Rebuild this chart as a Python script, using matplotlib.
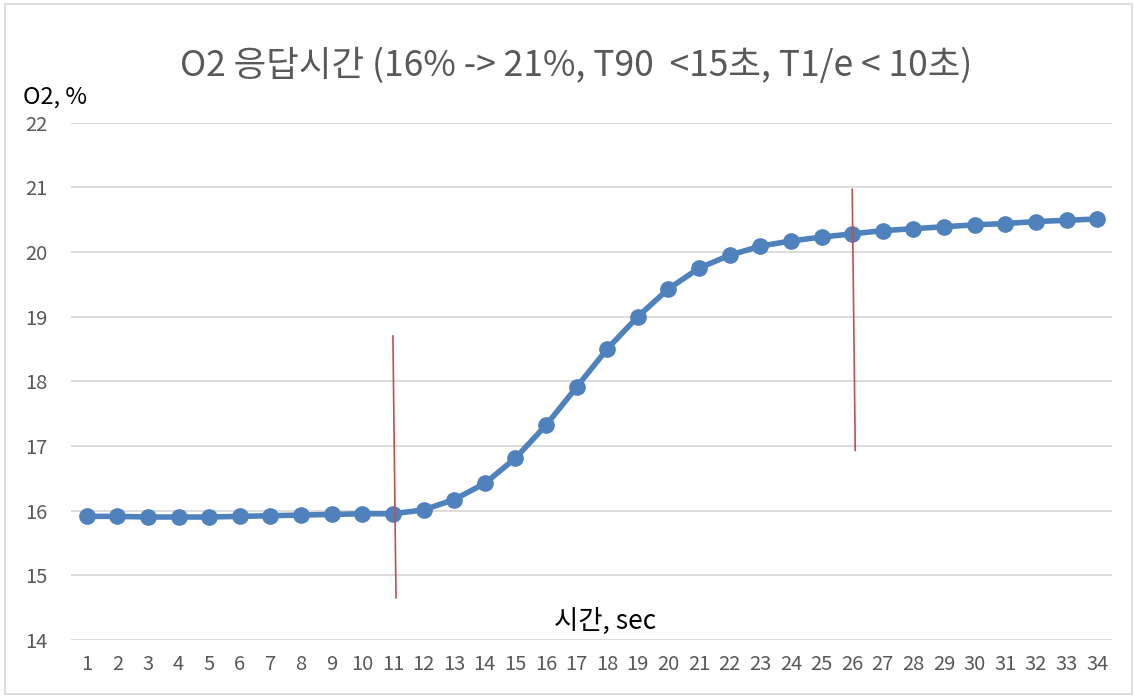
import matplotlib
matplotlib.use("Agg")
import matplotlib.pyplot as plt
from matplotlib.patches import Rectangle

plt.rcParams['font.family'] = ['Noto Sans CJK KR', 'DejaVu Sans']

# data
seconds = list(range(1, 35))
o2 = [15.91, 15.91, 15.90, 15.90, 15.90, 15.91, 15.92, 15.93, 15.94, 15.95,
      15.95, 16.01, 16.17, 16.42, 16.81, 17.32, 17.91, 18.50, 19.00, 19.43,
      19.75, 19.95, 20.09, 20.17, 20.23, 20.28, 20.33, 20.36, 20.39, 20.42,
      20.44, 20.47, 20.49, 20.51]
marker1_x = [11.0, 11.1]
marker1_y = [18.7, 14.65]
marker2_x = [26.0, 26.1]
marker2_y = [20.97, 16.93]
yticks = [14, 15, 16, 17, 18, 19, 20, 21, 22]

fig = plt.figure(figsize=(11.34, 6.97), dpi=100)
ax = fig.add_axes([0.063, 0.082, 0.918, 0.742])

ax.plot(seconds, o2, color='#4F81BD', linewidth=4, marker='o', markersize=11, zorder=3)
ax.plot(marker1_x, marker1_y, color='#C0504D', linewidth=1.2, zorder=4)
ax.plot(marker2_x, marker2_y, color='#C0504D', linewidth=1.2, zorder=4)

ax.set_xlim(0.5, 34.5)
ax.set_ylim(14, 22)
ax.set_yticks(yticks)
ax.set_xticks(seconds)
ax.grid(axis='y', color='#D9D9D9', linewidth=1.3)
ax.set_axisbelow(True)
for s in ax.spines.values():
    s.set_visible(False)
ax.tick_params(length=0, labelsize=14.5, labelcolor='#595959')
ax.tick_params(axis='x', pad=10)
ax.tick_params(axis='y', pad=17)

ax.text(0.513, 0.035, '시간, sec', transform=ax.transAxes, ha='center', va='center',
        fontsize=19, color='black')
fig.text(0.02, 0.86, 'O2, %', ha='left', va='center', fontsize=17, color='black')
fig.text(0.508, 0.905, 'O2 응답시간 (16% -> 21%, T90  <15초, T1/e < 10초)', ha='center',
         va='center', fontsize=25.5, color='#595959')

fig.patches.append(Rectangle((0.004, 0.004), 0.994, 0.99, transform=fig.transFigure,
                             fill=False, edgecolor='#D9D9D9', linewidth=1.2))

fig.savefig('out.png', dpi=100)
